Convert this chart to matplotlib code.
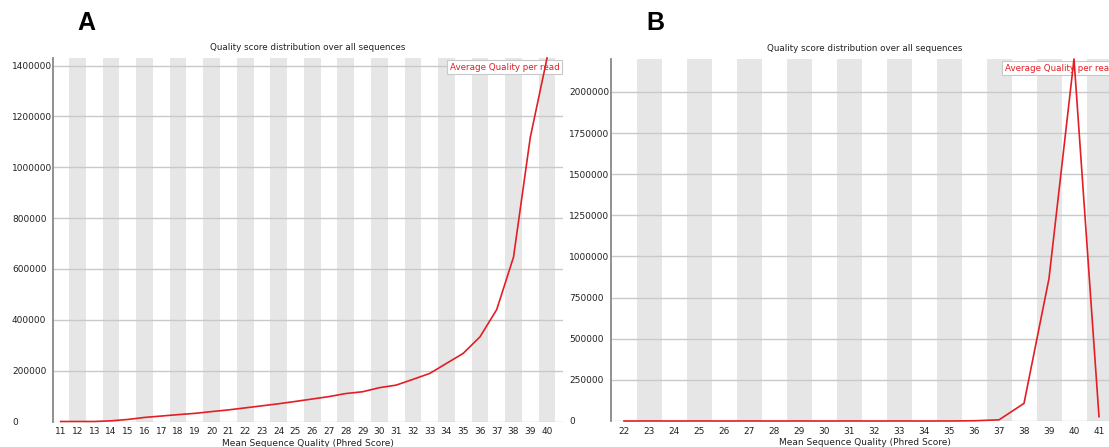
import matplotlib
matplotlib.use('Agg')
import matplotlib.pyplot as plt

# panel A: mean quality 11..40
qual_a  = list(range(11, 41))
count_a = [0, 0, 0, 2700, 8000, 16000, 21500, 27000, 32000, 39000,
           45600, 53600, 61700, 69800, 79000, 88500, 98000, 110000, 117000, 133000,
           143000, 165700, 189000, 228500, 268000, 333000, 440600, 647000, 1118000, 1430000]
yticks_a = [0, 200000, 400000, 600000, 800000, 1000000, 1200000, 1400000]

# panel B: mean quality 22..41
qual_b  = list(range(22, 42))
count_b = [0, 0, 0, 0, 0, 0, 0, 0, 0, 0, 0, 0, 0, 0,
           1500, 7000, 107000, 866000, 2200000, 26000]
yticks_b = [0, 250000, 500000, 750000, 1000000, 1250000, 1500000, 1750000, 2000000]

title  = 'Quality score distribution over all sequences'
xlabel = 'Mean Sequence Quality (Phred Score)'
legend = 'Average Quality per read'

RED  = '#e31e24'
BAND = '#e6e6e6'
GRID = '#c9c9c9'
W, H = 1109, 447

fig = plt.figure(figsize=(W/100, H/100), dpi=100)

def panel(rect, quals, counts, yticks, xlim, ylabel_pad):
    ax = fig.add_axes(rect)
    for q in quals[1::2]:
        ax.axvspan(q-0.5, q+0.5, color=BAND, lw=0, zorder=0)
    for t in yticks:
        ax.axhline(t, color=GRID, lw=1.0, zorder=1)
    ax.plot(quals, counts, color=RED, lw=1.2, zorder=4, clip_on=False)
    ax.set_xlim(*xlim)
    ax.set_ylim(0, max(counts))
    ax.set_xticks(quals)
    ax.set_xticklabels([str(q) for q in quals], fontsize=6.5, color='#222222')
    ax.set_yticks(yticks)
    ax.set_yticklabels([str(t) for t in yticks], fontsize=6.5, color='#222222', ha='left')
    ax.tick_params(axis='both', length=0)
    ax.tick_params(axis='x', pad=4)
    ax.tick_params(axis='y', pad=ylabel_pad)
    for s in ['top', 'right', 'bottom']:
        ax.spines[s].set_visible(False)
    ax.spines['left'].set_color('#888888')
    ax.spines['left'].set_linewidth(1.3)
    ax.set_title(title, fontsize=6.3, color='#222222', pad=6)
    ax.set_xlabel(xlabel, fontsize=6.5, color='#222222', labelpad=2)
    ax.annotate(legend, xy=(1, 1), xycoords='axes fraction', xytext=(-2.5, -3.5),
                textcoords='offset points', ha='right', va='top', fontsize=6.3,
                color=RED, zorder=3,
                bbox=dict(boxstyle='square,pad=0.3', facecolor='white', edgecolor='#c8c8c8', lw=0.8))
    return ax

axA = panel([53/W, 1-421.5/H, 510/W, 363.5/H], qual_a, count_a, yticks_a, (10.54, 40.95), 29.5)
axB = panel([611/W, 1-421/H, 507/W, 362/H], qual_b, count_b, yticks_b, (21.48, 41.76), 30.2)

fig.text(86/W, 1-23/H, 'A', fontsize=18, fontweight='bold', family='Liberation Sans', ha='center', va='center')
fig.text(655/W, 1-23/H, 'B', fontsize=18, fontweight='bold', family='Liberation Sans', ha='center', va='center')

fig.savefig('out.png', dpi=100)
